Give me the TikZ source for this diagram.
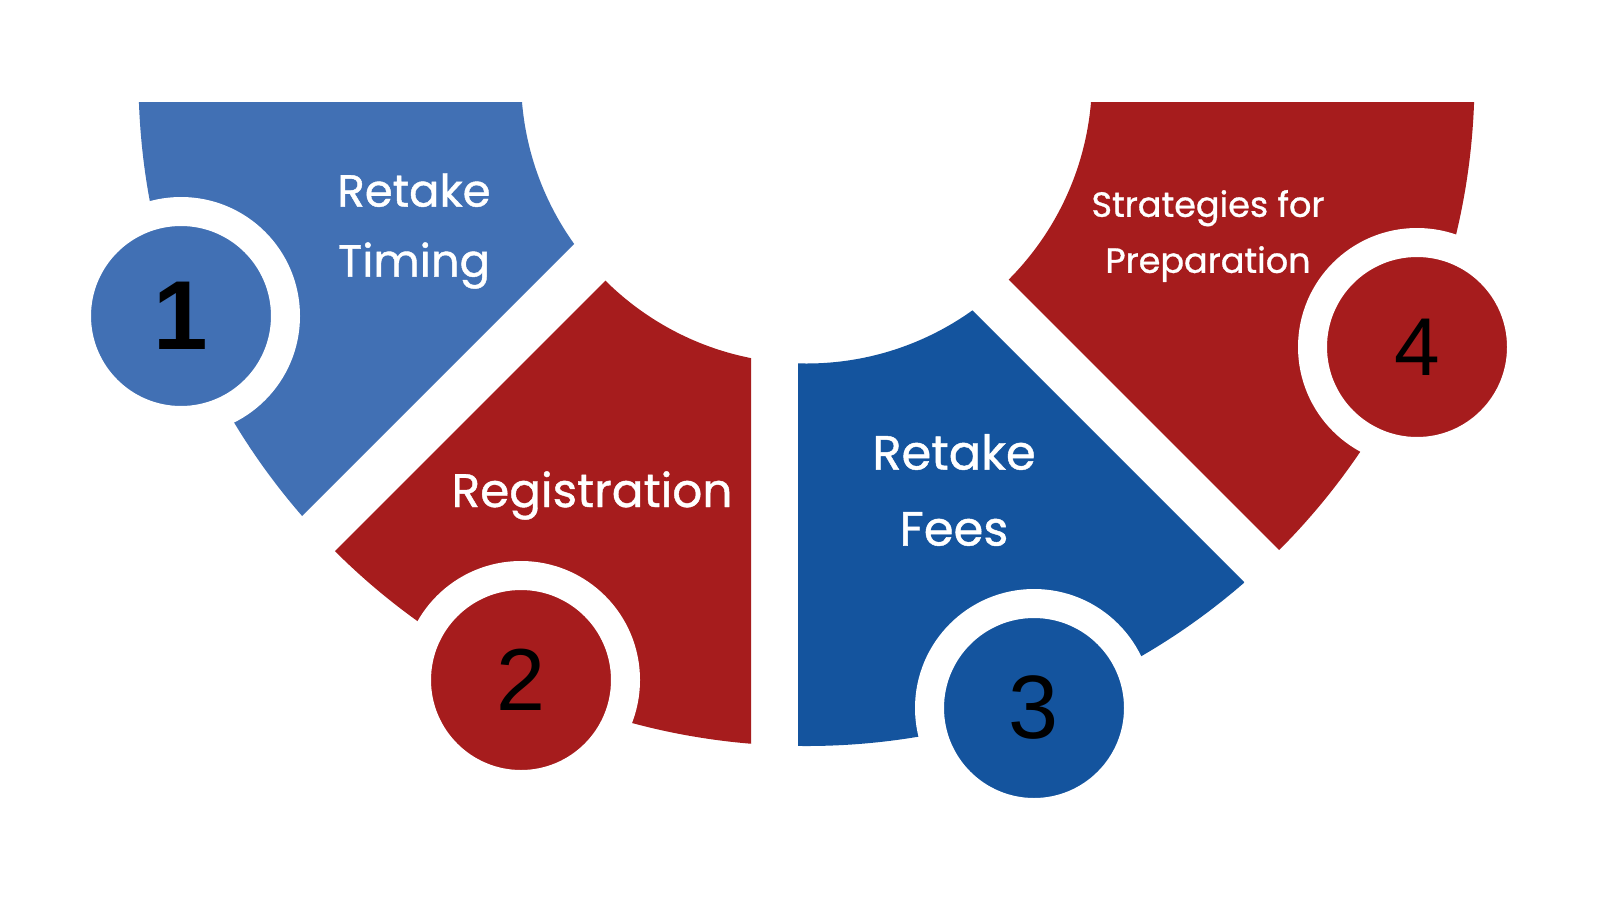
\documentclass[tikz,border=0pt]{standalone}
\usepackage{fontspec}
\setmainfont{Liberation Sans}
\newfontfamily\labelfont[FakeBold=0.9]{Poppins}
\usetikzlibrary{positioning}

\definecolor{lightblue}{RGB}{65,112,180}
\definecolor{darkblue}{RGB}{20,84,158}
\definecolor{darkred}{RGB}{166,28,29}

\tikzset{
  numcircle/.style={circle, draw=white, line width=29pt, minimum size=209pt, inner sep=0pt},
  steplabel/.style={text=white, align=center, inner sep=0pt},
}

\begin{document}
\begin{tikzpicture}[x=1pt,y=-1pt]
    \useasboundingbox (0,0) rectangle (1600,900);
    \fill[white] (0,0) rectangle (1600,900);
    \coordinate (C) at (806.5,78);

    % ring segments
    \begin{scope}
        \clip (-10,102) -- (716,102) -- (-10,828) -- cycle;
        \fill[lightblue,even odd rule] (C) circle[radius=668pt] (C) circle[radius=285.5pt];
    \end{scope}
    \begin{scope}
        \clip (751,135) -- (751,910) -- (-24,910) -- cycle;
        \fill[darkred,even odd rule] (C) circle[radius=668pt] (C) circle[radius=285.5pt];
    \end{scope}
    \begin{scope}
        \clip (798,136) -- (798,910) -- (1572,910) -- cycle;
        \fill[darkblue,even odd rule] (C) circle[radius=668pt] (C) circle[radius=285.5pt];
    \end{scope}
    \begin{scope}
        \clip (831,102) -- (1610,102) -- (1610,881) -- cycle;
        \fill[darkred,even odd rule] (C) circle[radius=668pt] (C) circle[radius=285.5pt];
    \end{scope}

    % number circles
    \node[numcircle, fill=lightblue, font=\fontsize{98}{98}\selectfont\bfseries] (n1) at (181,316) {1};
    \node[numcircle, fill=darkred, font=\fontsize{88}{88}\selectfont] (n2) at (521,680) {2};
    \node[numcircle, fill=darkblue, font=\fontsize{90}{90}\selectfont] (n3) at (1034,708) {3};
    \node[numcircle, fill=darkred, font=\fontsize{82}{82}\selectfont] (n4) at (1417,347) {4};

    % labels
    \node[steplabel, font=\labelfont\fontsize{45}{70}\selectfont] (timing) at (414,231) {Retake\\Timing};
    \node[steplabel, font=\labelfont\fontsize{47}{70}\selectfont, anchor=base] (registration) at (592,507) {Registration};
    \node[steplabel, font=\labelfont\fontsize{48}{76}\selectfont] (fees) at (954,490) {Retake\\Fees};
    \node[steplabel, font=\labelfont\fontsize{35}{56}\selectfont] (strategies) at (1208,236) {Strategies for\\Preparation};
\end{tikzpicture}
\end{document}
